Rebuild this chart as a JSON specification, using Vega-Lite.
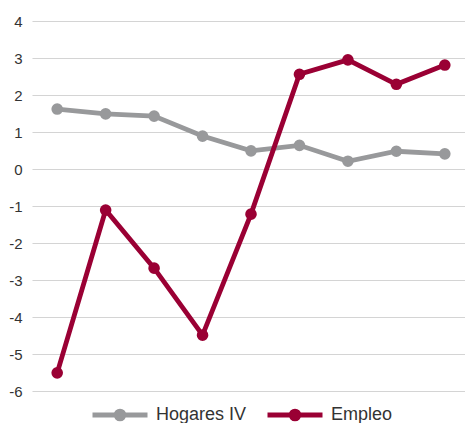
{
  "$schema": "https://vega.github.io/schema/vega-lite/v6.json",
  "width": 438,
  "height": 370,
  "autosize": "none",
  "padding": {"left": 32, "top": 21, "right": 0, "bottom": 32},
  "data": {
    "values": [
      {"t": 1, "s": "Hogares IV", "v": 1.62},
      {"t": 2, "s": "Hogares IV", "v": 1.49},
      {"t": 3, "s": "Hogares IV", "v": 1.43},
      {"t": 4, "s": "Hogares IV", "v": 0.89},
      {"t": 5, "s": "Hogares IV", "v": 0.49},
      {"t": 6, "s": "Hogares IV", "v": 0.64},
      {"t": 7, "s": "Hogares IV", "v": 0.21},
      {"t": 8, "s": "Hogares IV", "v": 0.48},
      {"t": 9, "s": "Hogares IV", "v": 0.41},
      {"t": 1, "s": "Empleo", "v": -5.51},
      {"t": 2, "s": "Empleo", "v": -1.11},
      {"t": 3, "s": "Empleo", "v": -2.68},
      {"t": 4, "s": "Empleo", "v": -4.49},
      {"t": 5, "s": "Empleo", "v": -1.22},
      {"t": 6, "s": "Empleo", "v": 2.56},
      {"t": 7, "s": "Empleo", "v": 2.95},
      {"t": 8, "s": "Empleo", "v": 2.29},
      {"t": 9, "s": "Empleo", "v": 2.81}
    ]
  },
  "mark": {"type": "line", "strokeWidth": 4.8, "point": {"filled": true, "size": 135, "opacity": 1}},
  "encoding": {
    "x": {"field": "t", "type": "ordinal", "axis": null, "scale": {"type": "point", "padding": 0.52}},
    "y": {
      "field": "v",
      "type": "quantitative",
      "scale": {"domain": [-6, 4], "nice": false, "zero": false},
      "axis": {
        "values": [-6, -5, -4, -3, -2, -1, 0, 1, 2, 3, 4],
        "labelExpr": "'' + datum.value",
        "title": null,
        "domain": false,
        "ticks": false,
        "labelPadding": 10,
        "labelFontSize": 15,
        "labelFont": "Liberation Sans",
        "labelColor": "#333333",
        "gridColor": "#d4d4d4",
        "gridWidth": 1.2
      }
    },
    "color": {
      "field": "s",
      "type": "nominal",
      "sort": ["Hogares IV", "Empleo"],
      "scale": {"domain": ["Hogares IV", "Empleo"], "range": ["#98999b", "#9a0034"]},
      "legend": {
        "title": null,
        "orient": "none",
        "legendX": 58,
        "legendY": 381,
        "direction": "horizontal",
        "symbolType": "M-1,0L1,0M0.14,0A0.14,0.14,0,1,1,-0.14,0A0.14,0.14,0,1,1,0.14,0Z",
        "symbolSize": 3025,
        "symbolStrokeWidth": 5,
        "clipHeight": 26,
        "labelFontSize": 18,
        "labelFont": "Liberation Sans",
        "labelColor": "#333333",
        "labelOffset": 6,
        "columnPadding": 18,
        "encode": {"symbols": {"update": {"fill": {"scale": "color", "field": "value"}, "opacity": {"value": 1}}}}
      }
    }
  },
  "config": {"view": {"stroke": null}}
}
